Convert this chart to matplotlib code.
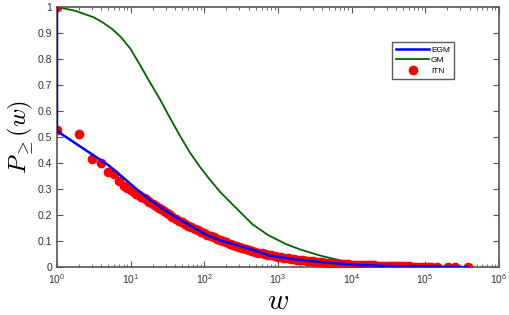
import matplotlib
matplotlib.use("Agg")
import matplotlib.pyplot as plt
import numpy as np
from matplotlib.ticker import LogLocator, NullFormatter, MultipleLocator

plt.rcParams['mathtext.fontset'] = 'cm'
plt.rcParams['font.family'] = ['Liberation Sans', 'DejaVu Sans']

itn_w = [1, 1, 2, 3, 4, 5, 6, 7, 8, 9, 10, 11, 12, 13, 14, 15, 16, 17, 18, 20,
         22, 24, 26, 28, 31, 34, 37, 41, 45, 50, 55, 61, 67, 74, 82, 90, 100,
         110, 122, 135, 150, 165, 182, 200, 222, 245, 270, 300, 330, 365, 400,
         445, 490, 540, 600, 665, 735, 810, 900, 1000, 1100, 1220, 1350, 1500,
         1650, 1820, 2000, 2220, 2450, 2700, 3000, 3300, 3650, 4000, 4450, 4900,
         5400, 6000, 6650, 7350, 8100, 9000, 10000, 11000, 12200, 13500, 15000,
         16500, 18200, 20000, 22200, 24500, 27000, 30000, 33000, 36500, 40000,
         44500, 49000, 54000, 60000, 66500, 73500, 81000, 90000, 100000, 110000,
         120000, 145000, 204000, 254000, 377000]
itn_p = [1.0, 0.527, 0.51, 0.415, 0.40, 0.367, 0.356, 0.332, 0.311, 0.305, 0.295,
         0.288, 0.282, 0.276, 0.270, 0.265, 0.260, 0.255, 0.250, 0.242,
         0.235, 0.228, 0.222, 0.216, 0.208, 0.200, 0.194, 0.186, 0.179, 0.172,
         0.165, 0.159, 0.153, 0.147, 0.141, 0.135, 0.130, 0.124, 0.119, 0.114,
         0.108, 0.104, 0.099, 0.095, 0.090, 0.086, 0.082, 0.078, 0.074, 0.070,
         0.066, 0.063, 0.060, 0.056, 0.053, 0.050, 0.047, 0.045, 0.042, 0.040,
         0.038, 0.036, 0.034, 0.032, 0.030, 0.029, 0.027, 0.026, 0.024, 0.023,
         0.022, 0.020, 0.019, 0.018, 0.017, 0.016, 0.015, 0.014, 0.013, 0.012,
         0.012, 0.011, 0.010, 0.0095, 0.009, 0.0085, 0.008, 0.0075, 0.007, 0.0065,
         0.006, 0.0055, 0.005, 0.0046, 0.0042, 0.0038, 0.0035, 0.0032, 0.0029,
         0.0026, 0.0024, 0.0022, 0.002, 0.0018, 0.0016, 0.0014, 0.0012, 0.001,
         0.0009, 0.0007, 0.0005, 0.0003]

# EGM model
egm_w = [1, 1, 2.27, 4.97, 7.2, 12, 18.3, 34, 57, 100, 163, 393, 778, 1690,
         3676, 8100, 13000, 50000, 100000, 377000]
egm_p = [1.0, 0.523, 0.456, 0.392, 0.354, 0.300, 0.258, 0.206, 0.168, 0.128,
         0.103, 0.072, 0.044, 0.030, 0.020, 0.012, 0.008, 0.003, 0.002, 0.0]

# GM model
gm_w = [1, 1.78, 3.16, 4.2, 5.62, 7.5, 10, 13.4, 18.3, 25, 34, 46.7, 64, 87,
        120, 163, 225, 304, 450, 736, 1300, 2000, 3676, 8500, 20000, 50000,
        100000]
gm_p = [1.0, 0.985, 0.96, 0.94, 0.915, 0.882, 0.838, 0.777, 0.71, 0.645,
        0.575, 0.505, 0.44, 0.386, 0.335, 0.29, 0.25, 0.213, 0.165, 0.123,
        0.088, 0.068, 0.045, 0.02, 0.008, 0.003, 0.001]

fig = plt.figure(figsize=(5.09, 3.15), dpi=100)
ax = fig.add_axes([0.112, 0.152, 0.868, 0.826])

ax.plot(egm_w, egm_p, color='blue', linewidth=1.8, label='EGM', zorder=4)
ax.plot(gm_w, gm_p, color='#006400', linewidth=1.3, label='GM', zorder=2)
ax.plot(itn_w, itn_p, 'o', color='red', markersize=7, markeredgewidth=0,
        label='ITN', zorder=3)

ax.set_xscale('log')
ax.set_xlim(1, 1e6)
ax.set_ylim(0, 1)
ax.yaxis.set_major_locator(MultipleLocator(0.1))
ax.yaxis.set_major_formatter(plt.FuncFormatter(lambda v, p: '%g' % round(v, 1)))
ax.xaxis.set_major_locator(LogLocator(base=10, numticks=10))
ax.xaxis.set_minor_locator(LogLocator(base=10, subs=np.arange(2, 10), numticks=20))
ax.xaxis.set_minor_formatter(NullFormatter())

for s in ax.spines.values():
    s.set_color('#555555')
    s.set_linewidth(1.2)
ax.tick_params(which='both', direction='in', top=True, right=True,
               colors='#555555', labelsize=7.5, labelcolor='#333333')
ax.tick_params(which='major', length=4)
ax.tick_params(which='minor', length=2)

ax.set_xlabel(r'$w$', fontsize=21, labelpad=1)
ax.set_ylabel(r'$P_{\geq}(w)$', fontsize=18, labelpad=1)

leg = ax.legend(loc='upper left', bbox_to_anchor=(0.758, 0.865), fontsize=6,
                handlelength=4, frameon=True, fancybox=False, borderpad=0.5,
                labelspacing=0.3, handletextpad=0.2, borderaxespad=0)
leg.get_frame().set_edgecolor('#333333')
leg.get_frame().set_linewidth(1.0)

fig.savefig('out.png', dpi=100)
